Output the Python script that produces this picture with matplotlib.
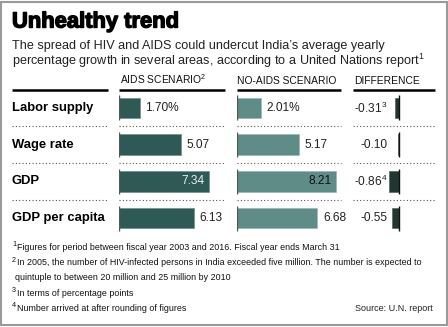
import matplotlib
matplotlib.use("Agg")
import matplotlib.pyplot as plt
from matplotlib.patches import Rectangle
import matplotlib.patheffects as pe

W, H = 448, 327

categories = ["Labor supply", "Wage rate", "GDP", "GDP per capita"]
aids = [1.70, 5.07, 7.34, 6.13]
no_aids = [2.01, 5.17, 8.21, 6.68]
diff = [-0.31, -0.10, -0.86, -0.55]
aids_labels = ["1.70%", "5.07", "7.34", "6.13"]
no_aids_labels = ["2.01%", "5.17", "8.21", "6.68"]
diff_labels = ["-0.31", "-0.10", "-0.86", "-0.55"]
diff_notes = ["3", "", "4", ""]
headers = ["AIDS SCENARIO", "NO-AIDS SCENARIO", "DIFFERENCE"]
header_notes = ["2", "", ""]
footnotes = [
    ("1", "Figures for period between fiscal year 2003 and 2016. Fiscal year ends March 31"),
    ("2", "In 2005, the number of HIV-infected persons in India exceeded five million. The number is expected to"),
    ("", "quintuple to between 20 million and 25 million by 2010"),
    ("3", "In terms of percentage points"),
    ("4", "Number arrived at after rounding of figures"),
]

C_AIDS = "#2f5955"
C_NOAIDS = "#5f8c87"
C_DIFF = "#223631"

plt.rcParams["font.family"] = ["Liberation Sans", "DejaVu Sans"]
plt.rcParams["mathtext.fontset"] = "custom"
plt.rcParams["mathtext.rm"] = "Liberation Sans"
plt.rcParams["mathtext.it"] = "Liberation Sans:italic"
plt.rcParams["mathtext.bf"] = "Liberation Sans:bold"


def sup(s):
    return r"$^{\mathrm{%s}}$" % s if s else ""


fig = plt.figure(figsize=(W / 100, H / 100), dpi=100)
fig.patch.set_facecolor("white")


def fx(px):
    return px / W


def fy(py):
    return 1 - py / H


def ftext(px, py, s, **kw):
    return fig.text(fx(px), fy(py), s, **kw)


# outer frame
fig.add_artist(Rectangle((fx(0.75), fy(H - 2.5)), fx(W - 2), (H - 4) / H,
                         transform=fig.transFigure, fill=False,
                         edgecolor="#9a9a9a", linewidth=1.5))

# title and intro
ftext(12, 27.5, "Unhealthy trend", fontsize=15.8, fontweight="bold", color="black",
      path_effects=[pe.withStroke(linewidth=1.0, foreground="black")])
ftext(12, 49, "The spread of HIV and AIDS could undercut India\u2019s average yearly",
      fontsize=9.1, color="#222222")
ftext(12, 65, "percentage growth in several areas, according to a United Nations report"
      + sup("1"), fontsize=9.1, color="#222222")

# column headers
for x0, head, note in zip([120, 237, 354], headers, header_notes):
    ftext(x0, 84, head + sup(note), fontsize=7.4, color="#111111")

# panel geometry (pixels)
top, row_h = 89.6, 36.7
bottom = top + 4 * row_h
columns = [(12, 108), (119, 225), (237, 341), (353, 435)]


def make_ax(x0, x1, xlim):
    ax = fig.add_axes([fx(x0), fy(bottom), (x1 - x0) / W, (bottom - top) / H])
    ax.set_xlim(*xlim)
    ax.set_ylim(3.5, -0.5)
    ax.axis("off")
    return ax


ax_lab = make_ax(*columns[0], (0, 1))
ax1 = make_ax(*columns[1], (0, 106 / 12.2))
ax2 = make_ax(*columns[2], (0, 104 / 12.05))
ax3 = make_ax(*columns[3], (-46 / 12.0, 36 / 12.0))

rows = list(range(len(categories)))
zeros = [0] * len(rows)
tick_lo = [r - 0.34 for r in rows]
tick_hi = [r + 0.34 for r in rows]

for ax in (ax_lab, ax1, ax2, ax3):
    x0, x1 = ax.get_xlim()
    ax.plot([x0, x1], [-0.5, -0.5], color="black", lw=1.8, solid_capstyle="butt", clip_on=False)
    for r in rows[:-1]:
        ax.plot([x0, x1], [r + 0.5, r + 0.5], color="#555555", lw=0.8,
                linestyle=(0, (1, 2)), clip_on=False)

for r, name in zip(rows, categories):
    ax_lab.text(0, r, name, ha="left", va="center", fontsize=9.4, fontweight="bold",
                color="black")

bar_h = 0.56

# AIDS scenario
ax1.barh(rows, aids, height=bar_h, color=C_AIDS, edgecolor="#6f8f8b", linewidth=0.5)
ax1.vlines(zeros, tick_lo, tick_hi, color="#555555", lw=1)
for r, v, s in zip(rows, aids, aids_labels):
    if v > 7:
        ax1.annotate(s, (v, r), xytext=(-3, 0), textcoords="offset points",
                     ha="right", va="center", fontsize=8.6, color="#e8eeee")
    else:
        ax1.annotate(s, (v, r), xytext=(4, 0), textcoords="offset points",
                     ha="left", va="center", fontsize=8.6, color="#222222")

# no-AIDS scenario
ax2.barh(rows, no_aids, height=bar_h, color=C_NOAIDS, edgecolor="#9bb6b2", linewidth=0.5)
ax2.vlines(zeros, tick_lo, tick_hi, color="#555555", lw=1)
for r, v, s in zip(rows, no_aids, no_aids_labels):
    if v > 7:
        ax2.annotate(s, (v, r), xytext=(-3, 0), textcoords="offset points",
                     ha="right", va="center", fontsize=8.6, color="#111111")
    else:
        ax2.annotate(s, (v, r), xytext=(4, 0), textcoords="offset points",
                     ha="left", va="center", fontsize=8.6, color="#222222")

# difference
ax3.barh(rows, diff, height=bar_h, color=C_DIFF, edgecolor="#556660", linewidth=0.5)
ax3.vlines(zeros, tick_lo, tick_hi, color="#111111", lw=1)
for r, s, note in zip(rows, diff_labels, diff_notes):
    ax3.text(-0.95, r, s + sup(note), ha="right", va="center", fontsize=8.6,
             color="#222222")

# footnotes: small raised mark, then the note text
for i, (mark, line) in enumerate(footnotes):
    y = 250 + i * 15.2
    if mark:
        ftext(12, y - 3.5, mark, fontsize=5.2, color="#111111")
    ftext(16.5 if mark else 15, y, line, fontsize=6.4, color="#111111")
ftext(433, 311, "Source: U.N. report", fontsize=6.5, color="#222222", ha="right")

fig.savefig("out.png", dpi=100, facecolor="white")
